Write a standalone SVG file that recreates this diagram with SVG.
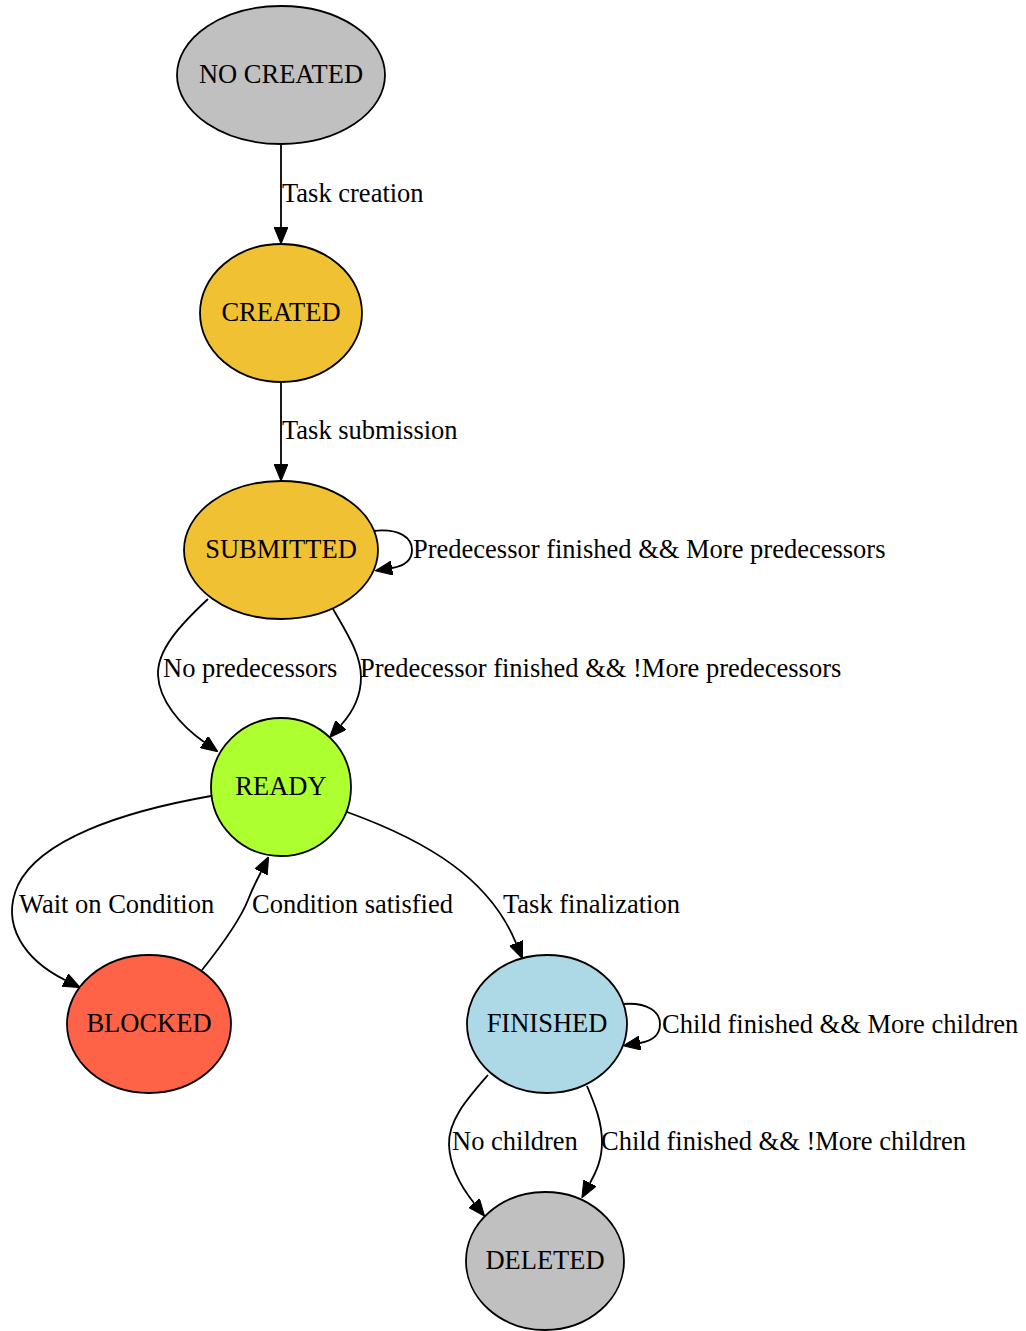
<svg xmlns="http://www.w3.org/2000/svg" width="1026" height="1331" viewBox="0 0 1026 1331">
<style>
text{font-family:"Liberation Serif","Times New Roman",serif;font-size:26.5px;fill:#000}
.n ellipse{stroke:#000;stroke-width:1.8}
.n text{text-anchor:middle}
.e path{fill:none;stroke:#000;stroke-width:1.8;marker-end:url(#ah)}
</style>
<defs>
<marker id="ah" viewBox="0 0 17 14" refX="0" refY="7" markerUnits="userSpaceOnUse" markerWidth="17" markerHeight="14" orient="auto">
<path d="M0,0 L17,7 L0,14 z" fill="#000" stroke="#000" stroke-width="1"/>
</marker>
</defs>
<rect width="1026" height="1331" fill="#fff"/>
<g id="edges" class="e">
<path d="M281,145 L281,227"/>
<path d="M281,382 L281,464"/>
<path d="M373,531 C400,528 412,538 412,550 C412,561 404,566 392,568"/>
<path d="M208,599 C180,625 157,650 158,675 C159,700 180,725 204,742"/>
<path d="M333,609 C348,635 361,655 361,677 C361,697 352,713 341,725"/>
<path d="M211,796 C120,812 40,840 18,885 C0,925 25,960 65,980"/>
<path d="M202,970 C222,945 240,920 248,900 C253,887 256,882 261,872"/>
<path d="M347,812 C430,842 490,880 516,943"/>
<path d="M623,1004 C648,1002 660,1012 660,1024 C660,1035 652,1041 640,1043"/>
<path d="M488,1075 C468,1098 448,1120 449,1145 C450,1168 462,1188 474,1203"/>
<path d="M587,1086 C595,1105 602,1122 602,1142 C602,1160 596,1172 590,1183"/>
</g>
<g id="edge-labels">
<text x="282" y="202">Task creation</text>
<text x="282" y="439">Task submission</text>
<text x="413" y="558">Predecessor finished &amp;&amp; More predecessors</text>
<text x="163" y="677">No predecessors</text>
<text x="360" y="677">Predecessor finished &amp;&amp; !More predecessors</text>
<text x="19" y="913">Wait on Condition</text>
<text x="252" y="913">Condition satisfied</text>
<text x="503" y="913">Task finalization</text>
<text x="662" y="1033">Child finished &amp;&amp; More children</text>
<text x="452" y="1150">No children</text>
<text x="601" y="1150">Child finished &amp;&amp; !More children</text>
</g>
<g id="no_created" class="n"><ellipse cx="281" cy="75" rx="104" ry="69" fill="#c0c0c0"/><text x="281" y="83">NO CREATED</text></g>
<g id="created" class="n"><ellipse cx="281" cy="313" rx="81" ry="69" fill="#f0c132"/><text x="281" y="321">CREATED</text></g>
<g id="submitted" class="n"><ellipse cx="281" cy="550" rx="97" ry="69" fill="#f0c132"/><text x="281" y="558">SUBMITTED</text></g>
<g id="ready" class="n"><ellipse cx="281" cy="787" rx="70" ry="69" fill="#adff2f"/><text x="281" y="795">READY</text></g>
<g id="blocked" class="n"><ellipse cx="149" cy="1024" rx="82" ry="69" fill="#ff6347"/><text x="149" y="1032">BLOCKED</text></g>
<g id="finished" class="n"><ellipse cx="547" cy="1024" rx="80" ry="69" fill="#add8e6"/><text x="547" y="1032">FINISHED</text></g>
<g id="deleted" class="n"><ellipse cx="545" cy="1261" rx="79" ry="69" fill="#c0c0c0"/><text x="545" y="1269">DELETED</text></g>
</svg>
